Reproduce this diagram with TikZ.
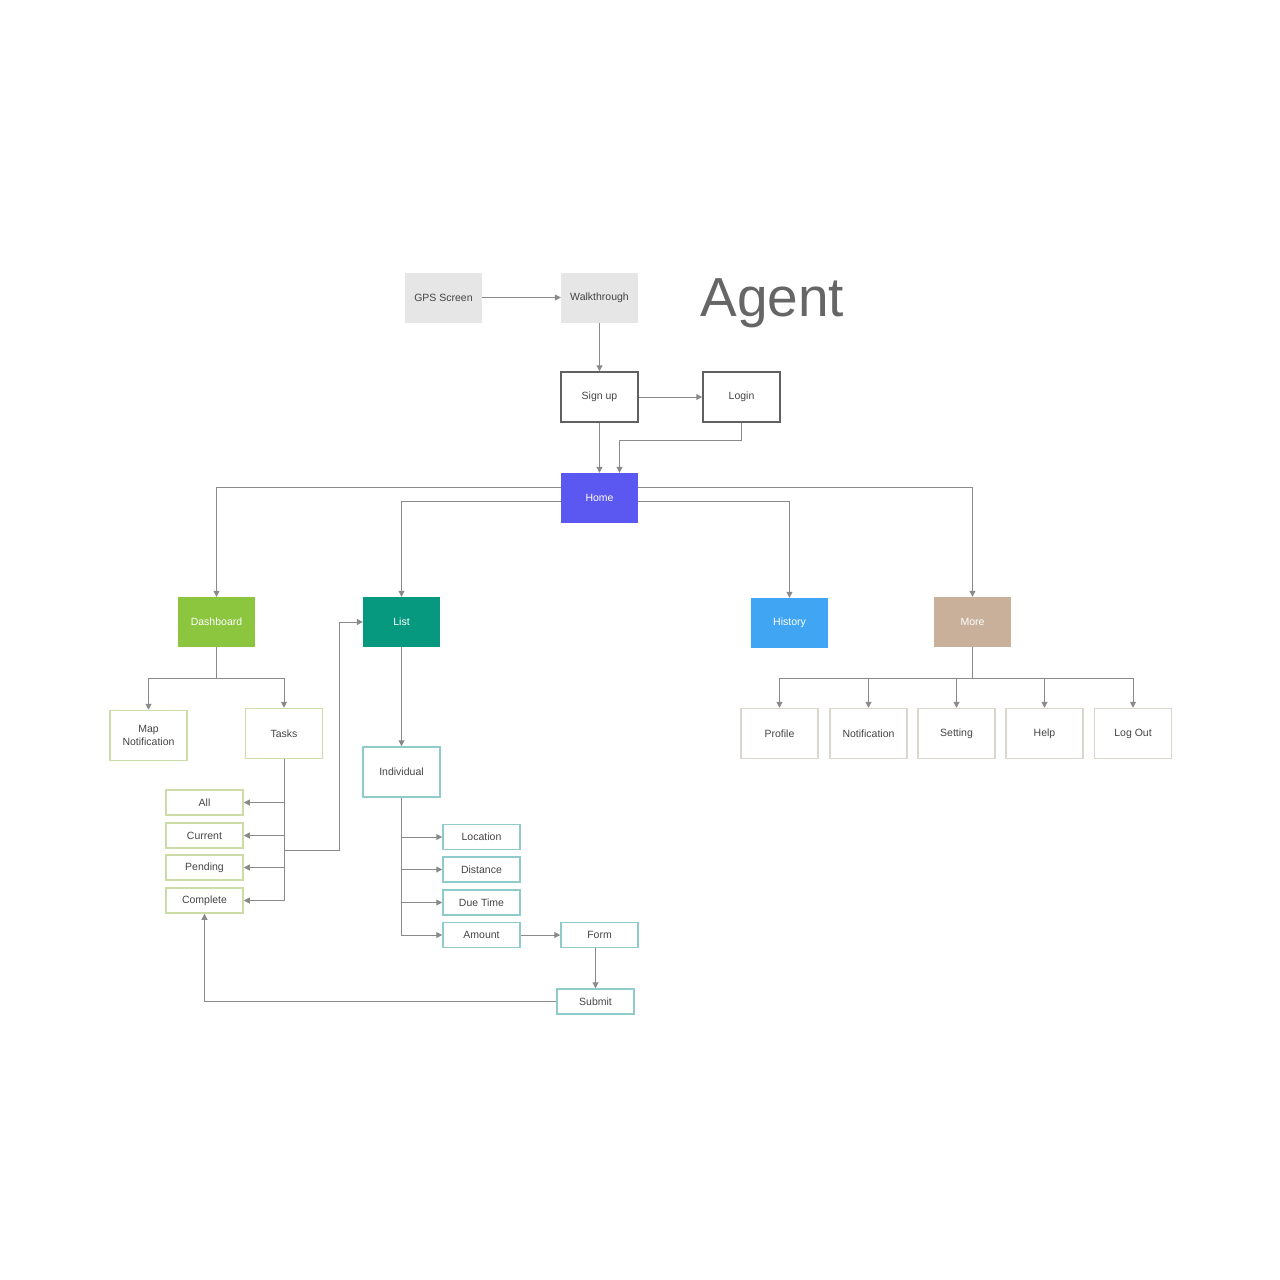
\documentclass[tikz,border=0pt]{standalone}
\usepackage{fontspec}
\setmainfont{Liberation Sans}
\usepackage{tikz}
\usetikzlibrary{positioning, arrows.meta}
\definecolor{textgrey}{HTML}{444444}
\definecolor{linegrey}{HTML}{8A8A8A}
\definecolor{homeblue}{HTML}{5B57F1}
\definecolor{dashgreen}{HTML}{8CC63F}
\definecolor{listteal}{HTML}{07997F}
\definecolor{histblue}{HTML}{40A6F4}
\definecolor{moretan}{HTML}{C8B09A}
\definecolor{startgrey}{HTML}{E6E6E6}
\definecolor{dashline}{HTML}{CCDCA6}
\definecolor{listline}{HTML}{8FCBCB}
\definecolor{moreline}{HTML}{DAD6CB}

\begin{document}
\begin{tikzpicture}[
        x=1pt, y=-1pt,
        every node/.style={font=\fontsize{10.5}{12.5}\selectfont, text=textgrey},
        screen/.style={rectangle, minimum width=77pt, minimum height=50pt, align=center, inner sep=0pt},
        start/.style={screen, fill=startgrey},
        auth/.style={screen, draw=textgrey!85, line width=1.5pt},
        main/.style={screen, text=white},
        sub/.style={screen, line width=1.5pt},
        small/.style={sub, minimum height=25pt},
        arrow/.style={draw=linegrey, line width=1pt, -{Triangle[length=6pt,width=6pt]}}
    ]
    \useasboundingbox (0,0) rectangle (1280,1280);

    % Nodes
    \node (gps) [start] at (443.5,297.5) {GPS Screen};
    \node (walk) [start] at (599.5,297.5) {Walkthrough};
    \node (title) [anchor=base west, font=\fontsize{55}{60}\selectfont, text=black!60] at (697,316) {Agent};
    \node (signup) [auth] at (599.5,397) {Sign up};
    \node (login) [auth] at (741.5,397) {Login};
    \node (home) [main, fill=homeblue] at (599.5,498) {Home};

    \node (dash) [main, fill=dashgreen] at (216.5,622) {Dashboard};
    \node (list) [main, fill=listteal] at (401.5,622) {List};
    \node (hist) [main, fill=histblue] at (789.5,623) {History};
    \node (more) [main, fill=moretan] at (972.5,622) {More};

    % Dashboard branch
    \node (mapn) [sub, draw=dashline] at (148.5,735.5) {Map\\Notification};
    \node (tasks) [sub, draw=dashline] at (284,733.5) {Tasks};
    \node (all) [small, draw=dashline] at (204.5,802.5) {All};
    \node (current) [small, draw=dashline] at (204.5,835.5) {Current};
    \node (pending) [small, draw=dashline] at (204.5,867.5) {Pending};
    \node (complete) [small, draw=dashline] at (204.5,900.5) {Complete};

    % List branch
    \node (indiv) [sub, draw=listline] at (401.5,772) {Individual};
    \node (loc) [small, draw=listline] at (481.5,837) {Location};
    \node (dist) [small, draw=listline] at (481.5,869.5) {Distance};
    \node (due) [small, draw=listline] at (481.5,902.5) {Due Time};
    \node (amount) [small, draw=listline] at (481.5,935) {Amount};
    \node (form) [small, draw=listline] at (599.5,935) {Form};
    \node (submit) [small, draw=listline] at (595.5,1001.5) {Submit};

    % More branch
    \node (profile) [sub, draw=moreline] at (779.5,733.5) {Profile};
    \node (notif) [sub, draw=moreline] at (868.5,733.5) {Notification};
    \node (setting) [sub, draw=moreline] at (956.5,733.5) {Setting};
    \node (help) [sub, draw=moreline] at (1044.5,733.5) {Help};
    \node (logout) [sub, draw=moreline] at (1133,733.5) {Log Out};

    \coordinate (bend) at (339,850);

    % Arrows
    \draw [arrow] (gps) -- (walk);
    \draw [arrow] (walk) -- (signup);
    \draw [arrow] (signup) -- (login);
    \draw [arrow] (signup) -- (home);
    \draw [arrow] (login.south) -- ++(0,18) -| ([xshift=20pt]home.north);

    \draw [arrow] ([yshift=11pt]home.west) -| (dash.north);
    \draw [arrow] ([yshift=-3pt]home.west) -| (list.north);
    \draw [arrow] ([yshift=-3pt]home.east) -| (hist.north);
    \draw [arrow] ([yshift=11pt]home.east) -| (more.north);

    \foreach \d in {mapn,tasks}
        \draw [arrow] (dash.south) -- ++(0,31) -| (\d.north);
    \foreach \t in {all,current,pending,complete}
        \draw [arrow] (tasks.south) |- (\t.east);
    \draw [arrow] (tasks.south) |- (bend) |- (list.west);

    \draw [arrow] (list) -- (indiv);
    \foreach \i in {loc,dist,due,amount}
        \draw [arrow] (indiv.south) |- (\i.west);
    \draw [arrow] (amount) -- (form);
    \draw [arrow] (submit.north |- form.south) -- (submit.north);
    \draw [arrow] (submit.west) -| (complete.south);

    \foreach \m in {profile,notif,setting,help,logout}
        \draw [arrow] (more.south) -- ++(0,31) -| (\m.north);

    \end{tikzpicture}
\end{document}
